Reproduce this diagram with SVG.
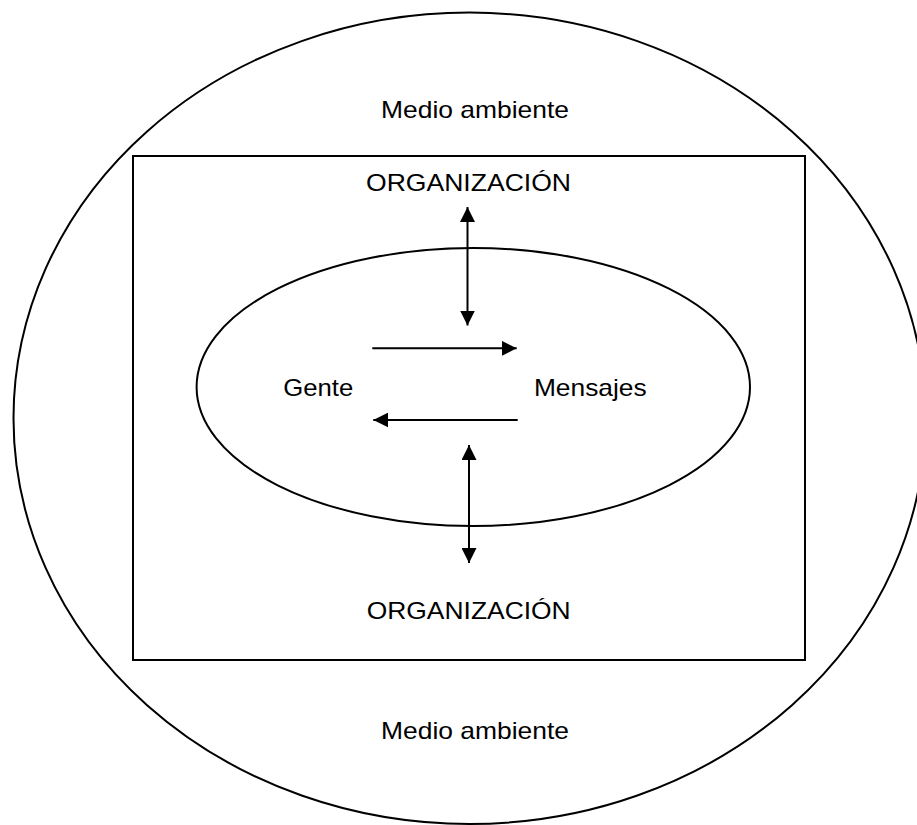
<svg xmlns="http://www.w3.org/2000/svg" width="917" height="825" viewBox="0 0 917 825">
  <style>
    .shape { fill: none; stroke: #000; stroke-width: 2; }
    .lbl { font-family: "Liberation Sans", Arial, sans-serif; font-size: 24px; fill: #000; text-anchor: middle; }
    .conn { stroke: #000; stroke-width: 2; fill: none; }
  </style>
  <defs>
    <marker id="ah" viewBox="0 0 15 15" refX="15" refY="7.5" markerWidth="15" markerHeight="15" markerUnits="userSpaceOnUse" orient="auto-start-reverse">
      <path d="M0,0 L15,7.5 L0,15 Z" fill="#000"/>
    </marker>
  </defs>
  <rect width="917" height="825" fill="#fff"/>

  <g id="medio-ambiente">
    <ellipse class="shape" cx="469.5" cy="418.3" rx="456" ry="405.7"/>
    <text class="lbl" x="475" y="118" textLength="188" lengthAdjust="spacingAndGlyphs">Medio ambiente</text>
    <text class="lbl" x="475" y="739" textLength="188" lengthAdjust="spacingAndGlyphs">Medio ambiente</text>
  </g>

  <g id="organizacion">
    <rect class="shape" x="133" y="156" width="672" height="504"/>
    <text class="lbl" x="468.5" y="191" textLength="205" lengthAdjust="spacingAndGlyphs">ORGANIZACIÓN</text>
    <text class="lbl" x="468.7" y="619" textLength="204" lengthAdjust="spacingAndGlyphs">ORGANIZACIÓN</text>
  </g>

  <g id="comunicacion">
    <ellipse class="shape" cx="473.3" cy="387" rx="276.7" ry="139"/>
  </g>

  <g id="gente">
    <text class="lbl" x="318.3" y="396" textLength="70" lengthAdjust="spacingAndGlyphs">Gente</text>
  </g>

  <g id="mensajes">
    <text class="lbl" x="590.3" y="396" textLength="112.7" lengthAdjust="spacingAndGlyphs">Mensajes</text>
  </g>

  <g id="connectors">
    <line class="conn" x1="467.5" y1="207" x2="467.5" y2="325.5" marker-start="url(#ah)" marker-end="url(#ah)"/>
    <line class="conn" x1="469" y1="445" x2="469" y2="563" marker-start="url(#ah)" marker-end="url(#ah)"/>
    <line class="conn" x1="372.3" y1="348.3" x2="516.7" y2="348.3" marker-end="url(#ah)"/>
    <line class="conn" x1="517.7" y1="420" x2="373.3" y2="420" marker-end="url(#ah)"/>
  </g>
</svg>
